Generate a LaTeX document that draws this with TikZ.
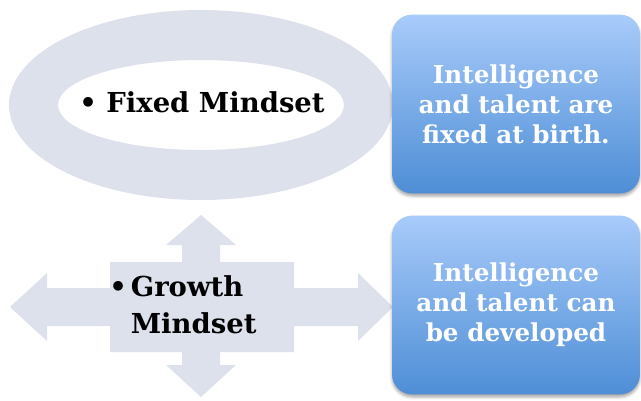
\documentclass[tikz,border=0pt]{standalone}
\usepackage{fontspec}
\setmainfont{DejaVu Serif}
\usetikzlibrary{shadows.blur}

\definecolor{ringgray}{HTML}{DCE1EC}
\definecolor{boxtop}{HTML}{A8CBFA}
\definecolor{boxbottom}{HTML}{4E8ED6}

\begin{document}
\begin{tikzpicture}[
      x=0.75pt, y=-0.75pt,
      mindset/.style={inner sep=0pt, text=black, font=\bfseries\fontsize{20.6}{27.75}\selectfont},
      belief/.style={rounded corners=15pt, top color=boxtop, bottom color=boxbottom,
        minimum width=186pt, minimum height=134pt, align=center, text=white,
        font=\bfseries\fontsize{18.5}{22.5}\selectfont,
        blur shadow={shadow xshift=0pt, shadow yshift=-2pt, shadow opacity=35}}
    ]
    \useasboundingbox (0,0) rectangle (641,400);

    % ring round the fixed mindset
    \fill[ringgray, even odd rule] (201,105) ellipse [x radius=192, y radius=95]
                                   (201,105) ellipse [x radius=143, y radius=45];
    \node[mindset, anchor=base] (fixed) at (202,112) {\textbullet\ Fixed Mindset};

    % four-way arrow behind the growth mindset
    \fill[ringgray] (10,307) -- (47,273) -- (47,288) -- (110,288) -- (110,262)
        -- (182,262) -- (182,245) -- (166,245) -- (201,215) -- (236,245) -- (220,245)
        -- (220,262) -- (294,262) -- (294,288) -- (358,288) -- (358,273) -- (393,307)
        -- (358,341) -- (358,326) -- (294,326) -- (294,352) -- (220,352) -- (220,365)
        -- (236,365) -- (201,397) -- (166,365) -- (182,365) -- (182,352) -- (110,352)
        -- (110,326) -- (47,326) -- (47,341) -- cycle;
    \node[mindset, anchor=west, align=left] (growth) at (109,305)
        {\textbullet\hspace{3pt}Growth\\\phantom{\textbullet\hspace{3pt}}Mindset};

    % what each mindset believes
    \node[belief] (fixedbelief) at (516,104) {Intelligence\\and talent are\\fixed at birth.};
    \node[belief] (growthbelief) at (516,305) {Intelligence\\and talent can\\be developed};

\end{tikzpicture}
\end{document}
